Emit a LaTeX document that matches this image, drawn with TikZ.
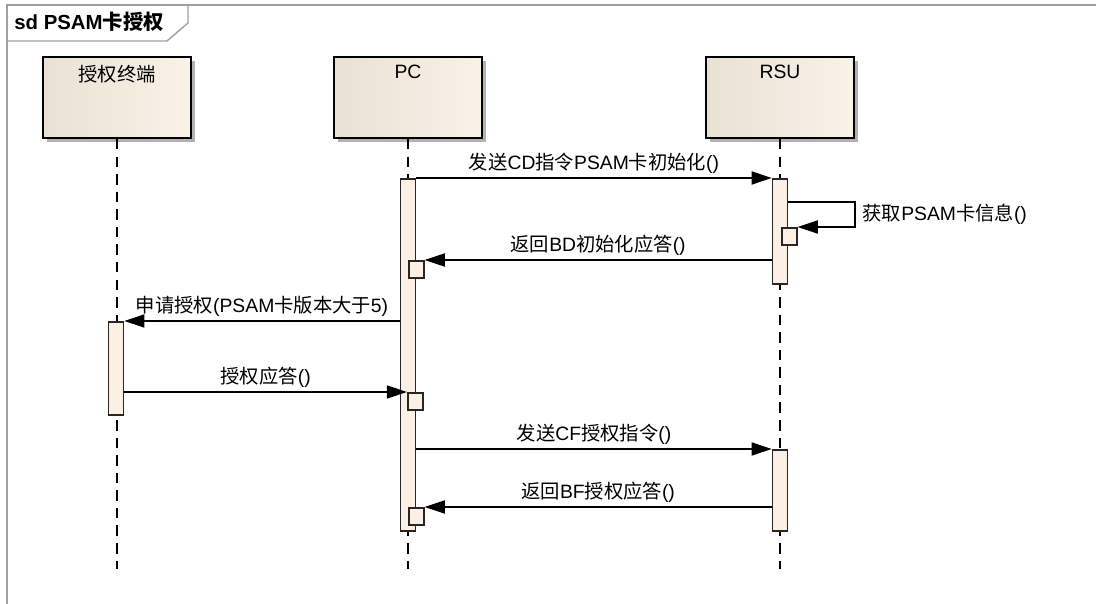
\documentclass[tikz,border=0pt]{standalone}
\usepackage{fontspec}
\setmainfont{Liberation Sans}
\newfontfamily\cjk{Noto Sans CJK SC}
\usepackage{tikz}
\usetikzlibrary{arrows.meta}
\usetikzlibrary{shadows}
\usetikzlibrary{calc}
\usetikzlibrary{positioning}

\definecolor{headleft}{RGB}{233,225,212}
\definecolor{headright}{RGB}{251,242,231}
\definecolor{barfill}{RGB}{251,240,227}
\definecolor{framegray}{RGB}{160,160,160}

\begin{document}
\begin{tikzpicture}[x=0.02cm, y=-0.02cm, font=\fontsize{11pt}{13pt}\selectfont,
	lifehead/.style={draw=black, line width=1.1pt, minimum width=2.96cm, minimum height=1.62cm,
		left color=headleft, right color=headright,
		drop shadow={shadow xshift=0.08cm, shadow yshift=-0.08cm, fill=black!30, opacity=1}},
	headtext/.style={anchor=north, yshift=-0.17cm, inner sep=0pt},
	lifeline/.style={draw=black, line width=0.7pt, dash pattern=on 6pt off 4pt},
	actbar/.style={draw=black!85, line width=0.9pt, fill=barfill, minimum width=0.3cm, inner sep=0pt, anchor=north},
	smallbox/.style={draw=black!85, line width=0.9pt, fill=barfill, minimum width=0.3cm, minimum height=0.34cm, inner sep=0pt, anchor=north west},
	msg/.style={draw=black, line width=0.7pt, -{Triangle[length=11.5pt, width=7.5pt]}},
	lbl/.style={above, inner sep=2pt, text=black}]
	\useasboundingbox (0,0) rectangle (1096,604);

	% frame
	\draw[framegray, line width=1pt] (7,604) -- (7,5) -- (1096,5);
	\draw[framegray, line width=0.8pt] (7,41) -- (167,41) -- (188,23) -- (188,5);
	\node[anchor=west, inner sep=0pt, font=\fontsize{11.6pt}{14pt}\selectfont\bfseries] (title) at (14,22) {sd PSAM{\cjk 卡授权}};

	% lifelines
	\node[lifehead, label={[headtext]north:{\cjk 授权终端}}] (term) at (117,97.5) {};
	\node[lifehead, label={[headtext]north:PC}] (pc) at (408,97.5) {};
	\node[lifehead, label={[headtext]north:RSU}] (rsu) at (780,97.5) {};

	\coordinate (bottom) at (0,569);
	\foreach \n in {term,pc,rsu}{\draw[lifeline] (\n.south) -- (\n.south |- bottom);}

	% activations
	\node[actbar, minimum height=7.04cm] (pcA) at (408,178) {};
	\node[actbar, minimum height=2.1cm] (rsuA) at (780,178) {};
	\node[actbar, minimum height=1.86cm] (termA) at (116,321) {};
	\node[actbar, minimum height=1.62cm] (rsuB) at (780,449) {};
	\node[smallbox] (rsuS) at (781,227) {};
	\node[smallbox] (pcB) at (408,260) {};
	\node[smallbox] (pcC) at (407,392) {};
	\node[smallbox] (pcD) at (408,507) {};

	% messages
	\coordinate (selfTop) at (855,202);
	\draw[msg] (pcA.east |- rsuA.north) -- node[lbl] {{\cjk 发送}CD{\cjk 指令}PSAM{\cjk 卡初始化}()} (rsuA.north west);
	\draw[msg] (selfTop -| rsuA.east) -- (selfTop) -- node[right, inner sep=4pt] {{\cjk 获取}PSAM{\cjk 卡信息}()} (selfTop |- rsuS.north east) -- (rsuS.north east);
	\draw[msg] (pcB.north east -| rsuA.west) -- node[lbl] {{\cjk 返回}BD{\cjk 初始化应答}()} (pcB.north east);
	\draw[msg] (termA.north east -| pcA.west) -- node[lbl] {{\cjk 申请授权}(PSAM{\cjk 卡版本大于}5)} (termA.north east);
	\draw[msg] (pcC.north west -| termA.east) -- node[lbl] {{\cjk 授权应答}()} (pcC.north west);
	\draw[msg] (rsuB.north west -| pcA.east) -- node[lbl] {{\cjk 发送}CF{\cjk 授权指令}()} (rsuB.north west);
	\draw[msg] (pcD.north east -| rsuB.west) -- node[lbl] {{\cjk 返回}BF{\cjk 授权应答}()} (pcD.north east);
\end{tikzpicture}
\end{document}
